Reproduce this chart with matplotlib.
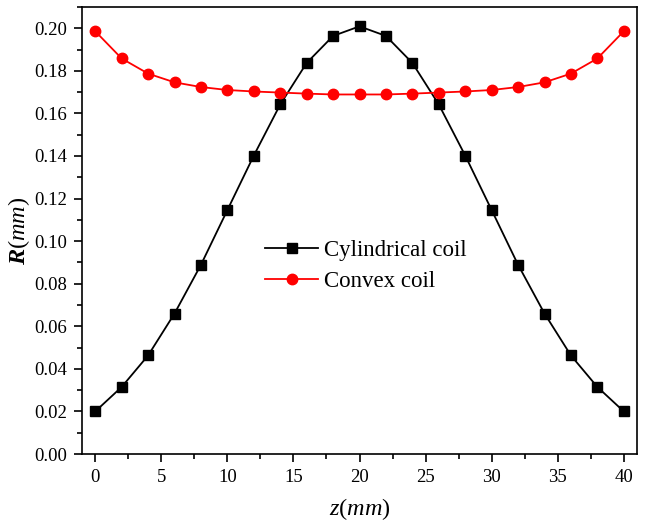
import matplotlib
matplotlib.use('Agg')
from matplotlib import pyplot as plt
from matplotlib.ticker import MultipleLocator, FormatStrFormatter

z_mm = [0, 2, 4, 6, 8, 10, 12, 14, 16, 18, 20, 22, 24, 26, 28, 30, 32, 34, 36, 38, 40]
r_cylindrical = [0.020, 0.0315, 0.0463, 0.066, 0.0889, 0.1146, 0.1402, 0.1642, 0.1837, 0.1964, 0.2009,
                 0.1964, 0.1837, 0.1642, 0.1402, 0.1146, 0.0889, 0.066, 0.0463, 0.0315, 0.020]
r_convex = [0.1986, 0.1858, 0.1787, 0.1746, 0.1724, 0.1710, 0.1703, 0.1698, 0.1693, 0.1689, 0.1689,
            0.1689, 0.1693, 0.1698, 0.1703, 0.1710, 0.1724, 0.1746, 0.1787, 0.1858, 0.1986]

plt.rcParams['font.family'] = 'Liberation Serif'
plt.rcParams['mathtext.fontset'] = 'custom'
plt.rcParams['mathtext.rm'] = 'Liberation Serif'
plt.rcParams['mathtext.it'] = 'Liberation Serif:italic'
plt.rcParams['mathtext.bf'] = 'Liberation Serif:bold'
plt.rcParams['mathtext.bfit'] = 'Liberation Serif:bold:italic'

fig = plt.figure(figsize=(6.49, 5.25), dpi=100)
ax = fig.add_axes([0.1264, 0.1352, 0.8551, 0.8515])

ax.plot(z_mm, r_cylindrical, color='black', lw=1.3, marker='s', markersize=6.5,
        label='Cylindrical coil')
ax.plot(z_mm, r_convex, color='#ff0000', lw=1.3, marker='o', markersize=7.5,
        label='Convex coil')

ax.set_xlim(-1, 41)
ax.set_ylim(0, 0.21)
ax.xaxis.set_major_locator(MultipleLocator(5))
ax.xaxis.set_minor_locator(MultipleLocator(2.5))
ax.yaxis.set_major_locator(MultipleLocator(0.02))
ax.yaxis.set_minor_locator(MultipleLocator(0.01))
ax.yaxis.set_major_formatter(FormatStrFormatter('%.2f'))

ax.tick_params(which='major', direction='out', length=6, width=1.2, labelsize=13.5, pad=5)
ax.tick_params(which='minor', direction='out', length=3.5, width=1.2)
for s in ax.spines.values():
    s.set_linewidth(1.2)

ax.set_xlabel(r'$\mathit{z}\mathrm{(}\mathit{mm}\mathrm{)}$', fontsize=17.5)
ax.set_ylabel(r'$\mathbfit{R}\mathrm{(}\mathit{mm}\mathrm{)}$', fontsize=17.5)
ax.xaxis.set_label_coords(0.5, -0.094)
ax.yaxis.set_label_coords(-0.09, 0.5)

ax.legend(loc='center left', bbox_to_anchor=(0.33, 0.42), frameon=False, fontsize=16.5,
          borderpad=0, borderaxespad=0, handlelength=2.3, handletextpad=0.25,
          labelspacing=0.45)

fig.savefig('out.png', dpi=100)
